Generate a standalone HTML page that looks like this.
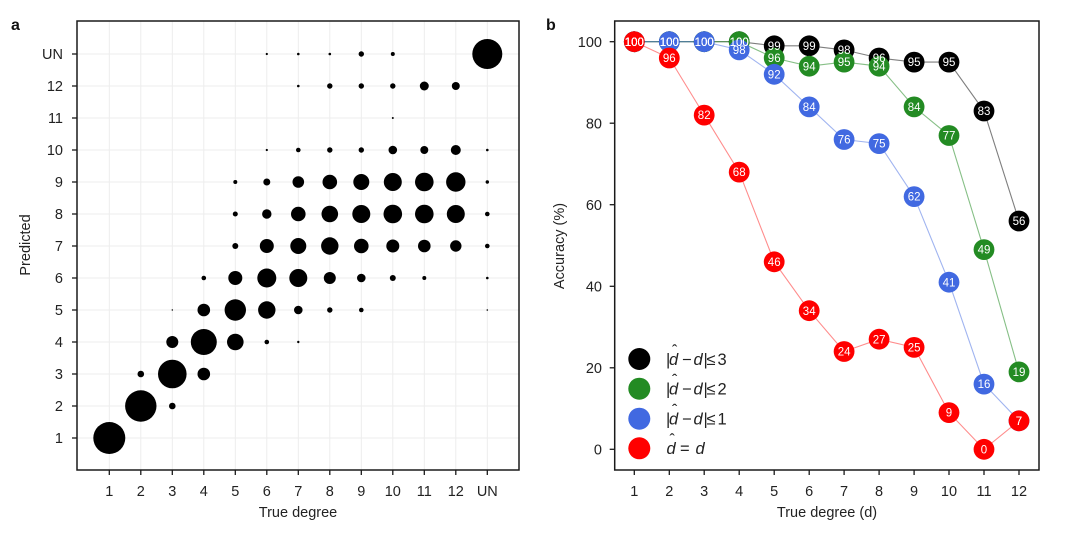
<!DOCTYPE html>
<html>
<head>
<meta charset="utf-8">
<style>
html,body{margin:0;padding:0;background:#fff;}
svg{display:block;}
text{font-family:"Liberation Sans",Arial,sans-serif;}
</style>
</head>
<body>
<svg width="1080" height="536" viewBox="0 0 1080 536" xmlns="http://www.w3.org/2000/svg">
<rect width="1080" height="536" fill="#fff"/>

<!-- ================= PANEL A ================= -->
<text x="11" y="30" font-size="16" font-weight="bold" fill="#111">a</text>

<!-- grid -->
<g stroke="#ededed" stroke-width="1">
  <line x1="109.3" y1="21" x2="109.3" y2="470"/>
  <line x1="140.8" y1="21" x2="140.8" y2="470"/>
  <line x1="172.3" y1="21" x2="172.3" y2="470"/>
  <line x1="203.8" y1="21" x2="203.8" y2="470"/>
  <line x1="235.3" y1="21" x2="235.3" y2="470"/>
  <line x1="266.8" y1="21" x2="266.8" y2="470"/>
  <line x1="298.3" y1="21" x2="298.3" y2="470"/>
  <line x1="329.8" y1="21" x2="329.8" y2="470"/>
  <line x1="361.3" y1="21" x2="361.3" y2="470"/>
  <line x1="392.8" y1="21" x2="392.8" y2="470"/>
  <line x1="424.3" y1="21" x2="424.3" y2="470"/>
  <line x1="455.8" y1="21" x2="455.8" y2="470"/>
  <line x1="487.3" y1="21" x2="487.3" y2="470"/>
  <line x1="77" y1="438" x2="519" y2="438"/>
  <line x1="77" y1="406" x2="519" y2="406"/>
  <line x1="77" y1="374" x2="519" y2="374"/>
  <line x1="77" y1="342" x2="519" y2="342"/>
  <line x1="77" y1="310" x2="519" y2="310"/>
  <line x1="77" y1="278" x2="519" y2="278"/>
  <line x1="77" y1="246" x2="519" y2="246"/>
  <line x1="77" y1="214" x2="519" y2="214"/>
  <line x1="77" y1="182" x2="519" y2="182"/>
  <line x1="77" y1="150" x2="519" y2="150"/>
  <line x1="77" y1="118" x2="519" y2="118"/>
  <line x1="77" y1="86" x2="519" y2="86"/>
  <line x1="77" y1="54" x2="519" y2="54"/>
</g>

<!-- bubbles -->
<g fill="#000">
  <circle cx="109.3" cy="438" r="16"/>
  <circle cx="140.8" cy="406" r="15.7"/>
  <circle cx="140.8" cy="374" r="3.3"/>
  <circle cx="172.3" cy="406" r="3.3"/>
  <circle cx="172.3" cy="374" r="14.3"/>
  <circle cx="172.3" cy="342" r="6"/>
  <circle cx="172.3" cy="310" r="0.7"/>
  <circle cx="203.8" cy="374" r="6.3"/>
  <circle cx="203.8" cy="342" r="13"/>
  <circle cx="203.8" cy="310" r="6.3"/>
  <circle cx="203.8" cy="278" r="2.3"/>
  <circle cx="235.3" cy="342" r="8.3"/>
  <circle cx="235.3" cy="310" r="10.7"/>
  <circle cx="235.3" cy="278" r="7"/>
  <circle cx="235.3" cy="246" r="3"/>
  <circle cx="235.3" cy="214" r="2.5"/>
  <circle cx="235.3" cy="182" r="2"/>
  <circle cx="266.8" cy="342" r="2.3"/>
  <circle cx="266.8" cy="310" r="8.7"/>
  <circle cx="266.8" cy="278" r="9.5"/>
  <circle cx="266.8" cy="246" r="7"/>
  <circle cx="266.8" cy="214" r="4.7"/>
  <circle cx="266.8" cy="182" r="3.5"/>
  <circle cx="266.8" cy="150" r="1.1"/>
  <circle cx="266.8" cy="54" r="1.1"/>
  <circle cx="298.3" cy="342" r="1.2"/>
  <circle cx="298.3" cy="310" r="4.3"/>
  <circle cx="298.3" cy="278" r="9"/>
  <circle cx="298.3" cy="246" r="8"/>
  <circle cx="298.3" cy="214" r="7.3"/>
  <circle cx="298.3" cy="182" r="5.8"/>
  <circle cx="298.3" cy="150" r="2.3"/>
  <circle cx="298.3" cy="86" r="1.3"/>
  <circle cx="298.3" cy="54" r="1.3"/>
  <circle cx="329.8" cy="310" r="2.7"/>
  <circle cx="329.8" cy="278" r="6"/>
  <circle cx="329.8" cy="246" r="8.7"/>
  <circle cx="329.8" cy="214" r="8.3"/>
  <circle cx="329.8" cy="182" r="7.3"/>
  <circle cx="329.8" cy="150" r="2.7"/>
  <circle cx="329.8" cy="86" r="2.7"/>
  <circle cx="329.8" cy="54" r="1.3"/>
  <circle cx="361.3" cy="310" r="2.3"/>
  <circle cx="361.3" cy="278" r="4.3"/>
  <circle cx="361.3" cy="246" r="7.3"/>
  <circle cx="361.3" cy="214" r="9"/>
  <circle cx="361.3" cy="182" r="8"/>
  <circle cx="361.3" cy="150" r="2.7"/>
  <circle cx="361.3" cy="86" r="2.7"/>
  <circle cx="361.3" cy="54" r="2.7"/>
  <circle cx="392.8" cy="278" r="3"/>
  <circle cx="392.8" cy="246" r="6.5"/>
  <circle cx="392.8" cy="214" r="9.3"/>
  <circle cx="392.8" cy="182" r="9"/>
  <circle cx="392.8" cy="150" r="4.3"/>
  <circle cx="392.8" cy="118" r="1"/>
  <circle cx="392.8" cy="86" r="2.7"/>
  <circle cx="392.8" cy="54" r="2"/>
  <circle cx="424.3" cy="278" r="2"/>
  <circle cx="424.3" cy="246" r="6.3"/>
  <circle cx="424.3" cy="214" r="9.3"/>
  <circle cx="424.3" cy="182" r="9.3"/>
  <circle cx="424.3" cy="150" r="4"/>
  <circle cx="424.3" cy="86" r="4.5"/>
  <circle cx="455.8" cy="246" r="5.7"/>
  <circle cx="455.8" cy="214" r="9"/>
  <circle cx="455.8" cy="182" r="9.7"/>
  <circle cx="455.8" cy="150" r="5"/>
  <circle cx="455.8" cy="86" r="4"/>
  <circle cx="487.3" cy="310" r="0.8"/>
  <circle cx="487.3" cy="278" r="1.3"/>
  <circle cx="487.3" cy="246" r="2.3"/>
  <circle cx="487.3" cy="214" r="2.3"/>
  <circle cx="487.3" cy="182" r="1.7"/>
  <circle cx="487.3" cy="150" r="1.3"/>
  <circle cx="487.3" cy="54" r="15"/>
</g>

<!-- axes box A -->
<rect x="77" y="21" width="442" height="449" fill="none" stroke="#1a1a1a" stroke-width="1.5"/>
<g stroke="#1a1a1a" stroke-width="1.3">
  <line x1="72" y1="438" x2="77" y2="438"/>
  <line x1="72" y1="406" x2="77" y2="406"/>
  <line x1="72" y1="374" x2="77" y2="374"/>
  <line x1="72" y1="342" x2="77" y2="342"/>
  <line x1="72" y1="310" x2="77" y2="310"/>
  <line x1="72" y1="278" x2="77" y2="278"/>
  <line x1="72" y1="246" x2="77" y2="246"/>
  <line x1="72" y1="214" x2="77" y2="214"/>
  <line x1="72" y1="182" x2="77" y2="182"/>
  <line x1="72" y1="150" x2="77" y2="150"/>
  <line x1="72" y1="118" x2="77" y2="118"/>
  <line x1="72" y1="86" x2="77" y2="86"/>
  <line x1="72" y1="54" x2="77" y2="54"/>
  <line x1="109.3" y1="470" x2="109.3" y2="475"/>
  <line x1="140.8" y1="470" x2="140.8" y2="475"/>
  <line x1="172.3" y1="470" x2="172.3" y2="475"/>
  <line x1="203.8" y1="470" x2="203.8" y2="475"/>
  <line x1="235.3" y1="470" x2="235.3" y2="475"/>
  <line x1="266.8" y1="470" x2="266.8" y2="475"/>
  <line x1="298.3" y1="470" x2="298.3" y2="475"/>
  <line x1="329.8" y1="470" x2="329.8" y2="475"/>
  <line x1="361.3" y1="470" x2="361.3" y2="475"/>
  <line x1="392.8" y1="470" x2="392.8" y2="475"/>
  <line x1="424.3" y1="470" x2="424.3" y2="475"/>
  <line x1="455.8" y1="470" x2="455.8" y2="475"/>
  <line x1="487.3" y1="470" x2="487.3" y2="475"/>
</g>
<g font-size="14.5" fill="#222" text-anchor="end">
  <text x="63" y="443">1</text>
  <text x="63" y="411">2</text>
  <text x="63" y="379">3</text>
  <text x="63" y="347">4</text>
  <text x="63" y="315">5</text>
  <text x="63" y="283">6</text>
  <text x="63" y="251">7</text>
  <text x="63" y="219">8</text>
  <text x="63" y="187">9</text>
  <text x="63" y="155">10</text>
  <text x="63" y="123">11</text>
  <text x="63" y="91">12</text>
  <text x="63" y="59">UN</text>
</g>
<g font-size="14.5" fill="#222" text-anchor="middle">
  <text x="109.3" y="496">1</text>
  <text x="140.8" y="496">2</text>
  <text x="172.3" y="496">3</text>
  <text x="203.8" y="496">4</text>
  <text x="235.3" y="496">5</text>
  <text x="266.8" y="496">6</text>
  <text x="298.3" y="496">7</text>
  <text x="329.8" y="496">8</text>
  <text x="361.3" y="496">9</text>
  <text x="392.8" y="496">10</text>
  <text x="424.3" y="496">11</text>
  <text x="455.8" y="496">12</text>
  <text x="487.3" y="496">UN</text>
</g>
<text x="298" y="517" font-size="14.5" fill="#222" text-anchor="middle">True degree</text>
<text transform="translate(30,245) rotate(-90)" font-size="14.5" fill="#222" text-anchor="middle">Predicted</text>

<!-- ================= PANEL B ================= -->
<text x="546" y="30" font-size="16" font-weight="bold" fill="#111">b</text>

<!-- lines -->
<g fill="none" stroke-width="1.1">
  <polyline stroke="rgba(40,40,40,0.6)" points="634.3,41.7 669.3,41.7 704.2,41.7 739.2,41.7 774.2,45.8 809.2,45.8 844.1,49.9 879.1,58.0 914.1,62.1 949.0,62.1 984.0,111.0 1019.0,221.0"/>
  <polyline stroke="rgba(34,139,34,0.55)" points="634.3,41.7 669.3,41.7 704.2,41.7 739.2,41.7 774.2,58.0 809.2,66.2 844.1,62.1 879.1,66.2 914.1,106.9 949.0,135.5 984.0,249.6 1019.0,371.9"/>
  <polyline stroke="rgba(65,105,225,0.5)" points="634.3,41.7 669.3,41.7 704.2,41.7 739.2,49.9 774.2,74.3 809.2,106.9 844.1,139.5 879.1,143.6 914.1,196.6 949.0,282.2 984.0,384.1 1019.0,420.8"/>
  <polyline stroke="rgba(255,0,0,0.45)" points="634.3,41.7 669.3,58.0 704.2,115.1 739.2,172.1 774.2,261.8 809.2,310.7 844.1,351.5 879.1,339.2 914.1,347.4 949.0,412.6 984.0,449.3 1019.0,420.8"/>
</g>

<!-- markers -->
<g fill="#000">
  <circle cx="634.3" cy="41.7" r="10.4"/><circle cx="669.3" cy="41.7" r="10.4"/><circle cx="704.2" cy="41.7" r="10.4"/><circle cx="739.2" cy="41.7" r="10.4"/>
  <circle cx="774.2" cy="45.8" r="10.4"/><circle cx="809.2" cy="45.8" r="10.4"/><circle cx="844.1" cy="49.9" r="10.4"/><circle cx="879.1" cy="58.0" r="10.4"/>
  <circle cx="914.1" cy="62.1" r="10.4"/><circle cx="949.0" cy="62.1" r="10.4"/><circle cx="984.0" cy="111.0" r="10.4"/><circle cx="1019.0" cy="221.0" r="10.4"/>
</g>
<g fill="#238b23">
  <circle cx="634.3" cy="41.7" r="10.4"/><circle cx="669.3" cy="41.7" r="10.4"/><circle cx="704.2" cy="41.7" r="10.4"/><circle cx="739.2" cy="41.7" r="10.4"/>
  <circle cx="774.2" cy="58.0" r="10.4"/><circle cx="809.2" cy="66.2" r="10.4"/><circle cx="844.1" cy="62.1" r="10.4"/><circle cx="879.1" cy="66.2" r="10.4"/>
  <circle cx="914.1" cy="106.9" r="10.4"/><circle cx="949.0" cy="135.5" r="10.4"/><circle cx="984.0" cy="249.6" r="10.4"/><circle cx="1019.0" cy="371.9" r="10.4"/>
</g>
<g fill="#4169e1">
  <circle cx="634.3" cy="41.7" r="10.4"/><circle cx="669.3" cy="41.7" r="10.4"/><circle cx="704.2" cy="41.7" r="10.4"/><circle cx="739.2" cy="49.9" r="10.4"/>
  <circle cx="774.2" cy="74.3" r="10.4"/><circle cx="809.2" cy="106.9" r="10.4"/><circle cx="844.1" cy="139.5" r="10.4"/><circle cx="879.1" cy="143.6" r="10.4"/>
  <circle cx="914.1" cy="196.6" r="10.4"/><circle cx="949.0" cy="282.2" r="10.4"/><circle cx="984.0" cy="384.1" r="10.4"/><circle cx="1019.0" cy="420.8" r="10.4"/>
</g>
<g fill="#ff0000">
  <circle cx="634.3" cy="41.7" r="10.4"/><circle cx="669.3" cy="58.0" r="10.4"/><circle cx="704.2" cy="115.1" r="10.4"/><circle cx="739.2" cy="172.1" r="10.4"/>
  <circle cx="774.2" cy="261.8" r="10.4"/><circle cx="809.2" cy="310.7" r="10.4"/><circle cx="844.1" cy="351.5" r="10.4"/><circle cx="879.1" cy="339.2" r="10.4"/>
  <circle cx="914.1" cy="347.4" r="10.4"/><circle cx="949.0" cy="412.6" r="10.4"/><circle cx="984.0" cy="449.3" r="10.4"/><circle cx="1019.0" cy="420.8" r="10.4"/>
</g>

<!-- value labels -->
<g font-size="11.5" fill="#fff" text-anchor="middle">
  <!-- black -->
  <text x="634.3" y="45.8">100</text><text x="669.3" y="45.8">100</text><text x="704.2" y="45.8">100</text><text x="739.2" y="45.8">100</text>
  <text x="774.2" y="49.9">99</text><text x="809.2" y="49.9">99</text><text x="844.1" y="54.0">98</text><text x="879.1" y="62.1">96</text>
  <text x="914.1" y="66.2">95</text><text x="949.0" y="66.2">95</text><text x="984.0" y="115.1">83</text><text x="1019.0" y="225.1">56</text>
  <!-- green -->
  <text x="634.3" y="45.8">100</text><text x="669.3" y="45.8">100</text><text x="704.2" y="45.8">100</text><text x="739.2" y="45.8">100</text>
  <text x="774.2" y="62.1">96</text><text x="809.2" y="70.3">94</text><text x="844.1" y="66.2">95</text><text x="879.1" y="70.3">94</text>
  <text x="914.1" y="111.0">84</text><text x="949.0" y="139.6">77</text><text x="984.0" y="253.7">49</text><text x="1019.0" y="376.0">19</text>
  <!-- blue -->
  <text x="634.3" y="45.8">100</text><text x="669.3" y="45.8">100</text><text x="704.2" y="45.8">100</text><text x="739.2" y="54.0">98</text>
  <text x="774.2" y="78.4">92</text><text x="809.2" y="111.0">84</text><text x="844.1" y="143.6">76</text><text x="879.1" y="147.7">75</text>
  <text x="914.1" y="200.7">62</text><text x="949.0" y="286.3">41</text><text x="984.0" y="388.2">16</text><text x="1019.0" y="424.9">7</text>
  <!-- red -->
  <text x="634.3" y="45.8">100</text><text x="669.3" y="62.1">96</text><text x="704.2" y="119.2">82</text><text x="739.2" y="176.2">68</text>
  <text x="774.2" y="265.9">46</text><text x="809.2" y="314.8">34</text><text x="844.1" y="355.6">24</text><text x="879.1" y="343.3">27</text>
  <text x="914.1" y="351.5">25</text><text x="949.0" y="416.7">9</text><text x="984.0" y="453.4">0</text><text x="1019.0" y="424.9">7</text>
</g>

<!-- axes box B -->
<rect x="614.7" y="21" width="424.3" height="449" fill="none" stroke="#1a1a1a" stroke-width="1.5"/>
<g stroke="#1a1a1a" stroke-width="1.3">
  <line x1="609.7" y1="449.3" x2="614.7" y2="449.3"/>
  <line x1="609.7" y1="367.8" x2="614.7" y2="367.8"/>
  <line x1="609.7" y1="286.3" x2="614.7" y2="286.3"/>
  <line x1="609.7" y1="204.7" x2="614.7" y2="204.7"/>
  <line x1="609.7" y1="123.2" x2="614.7" y2="123.2"/>
  <line x1="609.7" y1="41.7" x2="614.7" y2="41.7"/>
  <line x1="634.3" y1="470" x2="634.3" y2="475"/>
  <line x1="669.3" y1="470" x2="669.3" y2="475"/>
  <line x1="704.2" y1="470" x2="704.2" y2="475"/>
  <line x1="739.2" y1="470" x2="739.2" y2="475"/>
  <line x1="774.2" y1="470" x2="774.2" y2="475"/>
  <line x1="809.2" y1="470" x2="809.2" y2="475"/>
  <line x1="844.1" y1="470" x2="844.1" y2="475"/>
  <line x1="879.1" y1="470" x2="879.1" y2="475"/>
  <line x1="914.1" y1="470" x2="914.1" y2="475"/>
  <line x1="949.0" y1="470" x2="949.0" y2="475"/>
  <line x1="984.0" y1="470" x2="984.0" y2="475"/>
  <line x1="1019.0" y1="470" x2="1019.0" y2="475"/>
</g>
<g font-size="14.5" fill="#222" text-anchor="end">
  <text x="602" y="454.5">0</text>
  <text x="602" y="373">20</text>
  <text x="602" y="291.5">40</text>
  <text x="602" y="210">60</text>
  <text x="602" y="128.5">80</text>
  <text x="602" y="47">100</text>
</g>
<g font-size="14.5" fill="#222" text-anchor="middle">
  <text x="634.3" y="496">1</text>
  <text x="669.3" y="496">2</text>
  <text x="704.2" y="496">3</text>
  <text x="739.2" y="496">4</text>
  <text x="774.2" y="496">5</text>
  <text x="809.2" y="496">6</text>
  <text x="844.1" y="496">7</text>
  <text x="879.1" y="496">8</text>
  <text x="914.1" y="496">9</text>
  <text x="949.0" y="496">10</text>
  <text x="984.0" y="496">11</text>
  <text x="1019.0" y="496">12</text>
</g>
<text x="827" y="517" font-size="14.5" fill="#222" text-anchor="middle">True degree (d)</text>
<text transform="translate(564,246) rotate(-90)" font-size="14.5" fill="#222" text-anchor="middle">Accuracy (%)</text>

<!-- legend -->
<circle cx="639.3" cy="359" r="11" fill="#000"/>
<circle cx="639.3" cy="388.7" r="11" fill="#238b23"/>
<circle cx="639.3" cy="418.7" r="11" fill="#4169e1"/>
<circle cx="639.3" cy="448.3" r="11" fill="#ff0000"/>
<g font-size="16.5" fill="#222">
  <text y="365"><tspan x="666">|</tspan><tspan x="669" font-style="italic">d</tspan><tspan x="682">−</tspan><tspan x="693.5" font-style="italic">d</tspan><tspan x="703.5">|</tspan><tspan x="706.5">≤</tspan><tspan x="717.5">3</tspan></text>
  <text x="672" y="356" font-size="16">ˆ</text>
  <text y="394.5"><tspan x="666">|</tspan><tspan x="669" font-style="italic">d</tspan><tspan x="682">−</tspan><tspan x="693.5" font-style="italic">d</tspan><tspan x="703.5">|</tspan><tspan x="706.5">≤</tspan><tspan x="717.5">2</tspan></text>
  <text x="672" y="385.5" font-size="16">ˆ</text>
  <text y="424.5"><tspan x="666">|</tspan><tspan x="669" font-style="italic">d</tspan><tspan x="682">−</tspan><tspan x="693.5" font-style="italic">d</tspan><tspan x="703.5">|</tspan><tspan x="706.5">≤</tspan><tspan x="717.5">1</tspan></text>
  <text x="672" y="415.5" font-size="16">ˆ</text>
  <text y="454"><tspan x="666.5" font-style="italic">d</tspan><tspan x="680">=</tspan><tspan x="695.5" font-style="italic">d</tspan></text>
  <text x="669.5" y="445" font-size="16">ˆ</text>
</g>
</svg>
</body>
</html>
